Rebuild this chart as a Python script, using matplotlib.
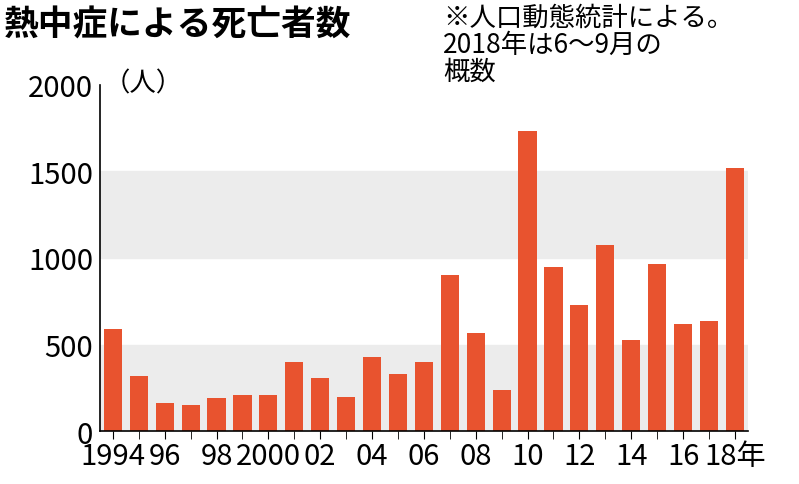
import matplotlib
matplotlib.use("Agg")
import matplotlib.pyplot as plt

plt.rcParams['font.family'] = ['Noto Sans CJK JP', 'DejaVu Sans']

years = list(range(1994, 2019))
deaths = [589, 318, 160, 150, 190, 210, 207, 400, 308, 200, 430, 328, 400, 904, 569, 236,
          1731, 948, 727, 1077, 529, 968, 621, 635, 1518]
tick_years = [1994, 1996, 1998, 2000, 2002, 2004, 2006, 2008, 2010, 2012, 2014, 2016, 2018]
tick_labels = ['1994', '96', '98', '2000', '02', '04', '06', '08', '10', '12', '14', '16', '18年']

fig = plt.figure(figsize=(7.99, 4.85), dpi=100)
ax = fig.add_axes([0.125, 0.109, 0.811, 0.714])
ax.axhspan(0, 500, color='#ececec', zorder=0)
ax.axhspan(1000, 1500, color='#ececec', zorder=0)
ax.bar(years, deaths, width=0.7, color='#e8532f', zorder=2)
ax.set_xlim(1993.5, 2018.5)
ax.set_ylim(0, 2000)
ax.set_yticks([0, 500, 1000, 1500, 2000])
ax.set_yticklabels(['0', '500', '1000', '1500', '2000'], fontsize=21)
ax.set_xticks(years, minor=True)
ax.set_xticks(tick_years)
ax.set_xticklabels(tick_labels, fontsize=21)
ax.tick_params(axis='y', length=0, pad=5)
ax.tick_params(axis='x', which='both', length=6, direction='out', pad=1)
for s in ['top', 'right']:
    ax.spines[s].set_visible(False)
ax.spines['left'].set_linewidth(1.2)
ax.spines['bottom'].set_linewidth(1.2)

fig.text(0.005, 0.985, '熱中症による死亡者数', fontsize=25, fontweight='bold', va='top', ha='left')
fig.text(0.555, 0.99, '※人口動態統計による。\n2018年は6～9月の\n概数', fontsize=19,
         va='top', ha='left', linespacing=1.0)
fig.text(0.13, 0.80, '（人）', fontsize=19, va='bottom', ha='left')

fig.savefig('out.png', dpi=100)
